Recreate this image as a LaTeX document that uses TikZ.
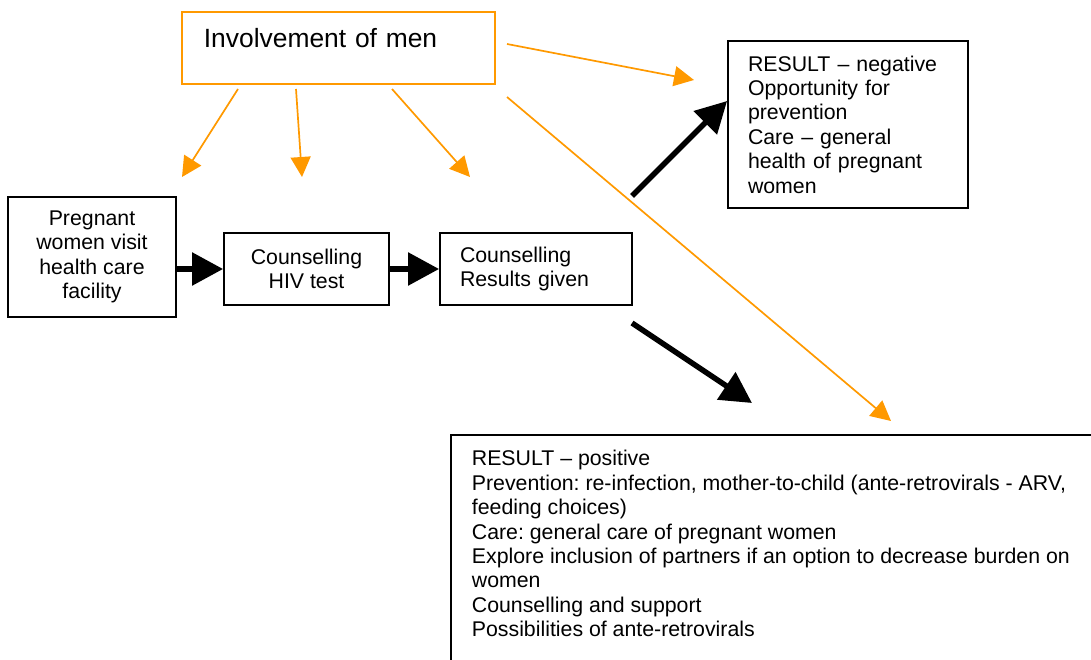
\documentclass[tikz,border=0pt]{standalone}
\usepackage{fontspec}
\setmainfont{Liberation Sans}
\usepackage{xcolor}
\usetikzlibrary{arrows.meta,calc}
\definecolor{menorange}{RGB}{255,153,0}
\frenchspacing

\begin{document}
\begin{tikzpicture}[x=1pt,y=-1pt,
  box/.style={rectangle, draw, line width=1.8pt, font=\fontsize{21.3}{24.4}\selectfont},
  flow/.style={line width=5.5pt, -{Triangle[length=31pt,width=32pt]}},
  menarrow/.style={draw=menorange, line width=1.7pt, -{Triangle[length=20pt,width=20pt]}, color=menorange}]
\useasboundingbox (0,0) rectangle (1091,660);
\clip (0,0) rectangle (1091,660);

\node[box, draw=menorange, anchor=north west, text width=269pt, inner xsep=22pt, inner ysep=8pt, text height=28pt, text depth=28pt, align=left, font=\fontsize{26.4}{30}\selectfont] (involve) at (181,11) {Involvement of men};
\node[box, minimum width=240pt, minimum height=167pt, text width=200pt, align=left] (neg) at (848,124.5) {RESULT – negative\\Opportunity for\\prevention\\Care – general\\health of pregnant\\women};
\node[box, minimum width=168pt, minimum height=120pt, align=center] (preg) at (92,257) {Pregnant\\women visit\\health care\\facility};
\node[box, minimum width=165pt, minimum height=72pt, align=center] (hiv) at (306.5,269) {Counselling\\HIV test};
\node[box, minimum width=192pt, minimum height=72pt, text width=152pt, align=left] (given) at (536,269) {Counselling\\Results given};
\node[box, anchor=north west, inner xsep=21pt, inner ysep=15.5pt] (pos) at (450,434) {\parbox[t][260pt][t]{640pt}{RESULT – positive\\Prevention: re-infection, mother-to-child (ante-retrovirals - ARV,\\feeding choices)\\Care: general care of pregnant women\\Explore inclusion of partners if an option to decrease burden on\\women\\Counselling and support\\Possibilities of ante-retrovirals}};

% loose ends of the arrows
\coordinate (m1) at (238,89);
\coordinate (m2) at (296,89);
\coordinate (m3) at (392,89);
\coordinate (m4) at (507,44);
\coordinate (m5) at (507,97);
\coordinate (t1) at (182,177);
\coordinate (t2) at (302,177);
\coordinate (t3) at (470,177);
\coordinate (t4) at (694,80);
\coordinate (t5) at (891,421);
\coordinate (negtail) at (632,196);
\coordinate (postail) at (632,323);
\coordinate (postip) at (752,403);

\draw[flow] (preg.east |- hiv.west) -- (hiv.west);
\draw[flow] (hiv) -- (given);
\draw[flow] (negtail) -- (neg.169);
\draw[flow] (postail) -- (postip);

\draw[menarrow] (m1) -- (t1);
\draw[menarrow] (m2) -- (t2);
\draw[menarrow] (m3) -- (t3);
\draw[menarrow] (m4) -- (t4);
\draw[menarrow] (m5) -- (t5);
\end{tikzpicture}
\end{document}
